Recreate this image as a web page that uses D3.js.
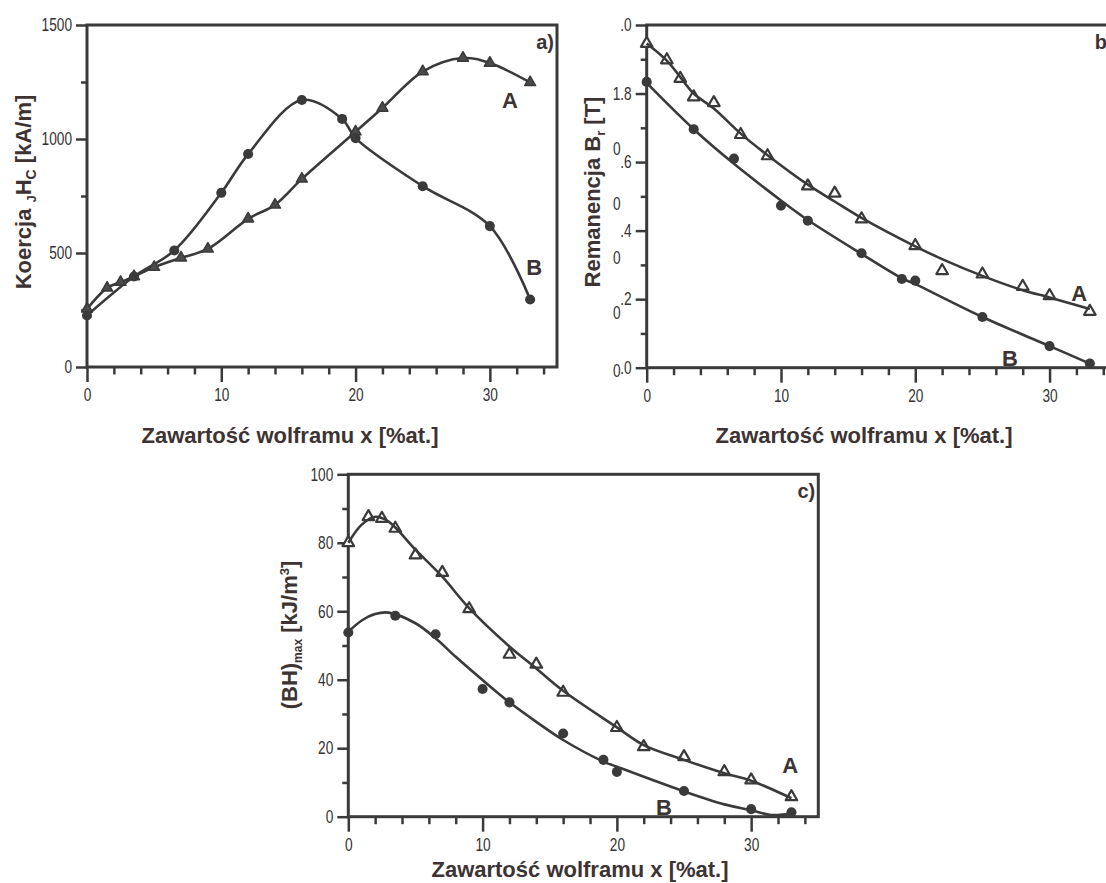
<!DOCTYPE html>
<html><head><meta charset="utf-8">
<script src="https://cdn.jsdelivr.net/npm/d3@7"></script>
<style>
body{margin:0;background:#fff}
svg{display:block;background:#fff}
.tick text{font-family:"Liberation Sans",Arial,sans-serif;font-size:18px;fill:#333}
.tick line{stroke:#3a3a3a;stroke-width:2.5}
.title{font-family:"Liberation Sans",Arial,Helvetica,sans-serif;font-weight:bold;font-size:22px;fill:#3d3333}
.lbl{font-family:"Liberation Sans",Arial,Helvetica,sans-serif;font-weight:bold;font-size:22px;fill:#3d3333}
.plbl{font-family:"Liberation Sans",Arial,Helvetica,sans-serif;font-weight:bold;font-size:20px;fill:#3d3333}
.stray{font-family:"Liberation Sans",Arial,sans-serif;font-size:18px;fill:#333}
</style></head><body>
<svg id="chart" width="1106" height="883"></svg>
<script>
// ---------- data ----------
const xTickValues = [0, 10, 20, 30];

// panel a) coercivity jHc [kA/m]
const aTriX = [0, 1.5, 2.5, 3.5, 5, 7, 9, 12, 14, 16, 20, 22, 25, 28, 30, 33];
const aTriY = [255, 347, 372, 397, 438, 479, 518, 650, 711, 825, 1032, 1136, 1296, 1355, 1333, 1248];
const aCirX = [0, 3.5, 6.5, 10, 12, 16, 19, 20, 25, 30, 33];
const aCirY = [226, 397, 511, 764, 934, 1171, 1088, 1004, 793, 618, 296];
const aYTicks = [0, 500, 1000, 1500];
const aYTickLabels = ["0", "500", "1000", "1500"];

// panel b) remanence Br [T]
const bTriX = [0, 1.5, 2.5, 3.5, 5, 7, 9, 12, 14, 16, 20, 22, 25, 28, 30, 33];
const bTriY = [0.946, 0.898, 0.844, 0.790, 0.773, 0.680, 0.618, 0.530, 0.509, 0.434, 0.356, 0.283, 0.273, 0.237, 0.210, 0.164];
const bFitAX = [0, 1.5, 2.5, 3.5, 5, 7, 9, 12, 14, 16, 20, 22, 25, 28, 30, 33];
const bFitAY = [0.946, 0.896, 0.848, 0.800, 0.756, 0.683, 0.620, 0.534, 0.485, 0.437, 0.354, 0.317, 0.268, 0.226, 0.205, 0.171];
const bCirX = [0, 3.5, 6.5, 10, 12, 16, 19, 20, 25, 30, 33];
const bCirY = [0.834, 0.696, 0.610, 0.473, 0.429, 0.334, 0.259, 0.254, 0.148, 0.063, 0.012];
const bFitBX = [0, 3.5, 6.5, 10, 12, 16, 19, 20, 25, 30, 33];
const bFitBY = [0.831, 0.696, 0.595, 0.488, 0.431, 0.332, 0.261, 0.244, 0.148, 0.063, 0.012];
const bYTicks = [0, 0.2, 0.4, 0.6, 0.8, 1.0];
const bYTickLabels = [".0", ".2", ".4", ".6", "1.8", ".0"];
const bStrayZeroY = [0.64, 0.48, 0.32, 0.16, -0.01];

// panel c) (BH)max [kJ/m3]
const cTriX = [0, 1.5, 2.5, 3.5, 5, 7, 9, 12, 14, 16, 20, 22, 25, 28, 30, 33];
const cTriY = [80, 87.6, 87.1, 84.2, 76.4, 71.3, 60.7, 47.4, 44.5, 36.3, 26.0, 20.4, 17.5, 13.1, 10.7, 5.8];
const cFitAX = [0, 1, 2, 3, 5, 7, 9, 12, 14, 16, 20, 22, 25, 28, 30, 33];
const cFitAY = [80, 85.3, 87.6, 86.2, 78.0, 70.1, 60.9, 49.7, 43.3, 36.8, 26.1, 20.9, 16.6, 12.7, 10.5, 5.4];
const cCirX = [0, 3.5, 6.5, 10, 12, 16, 19, 20, 25, 30, 33];
const cCirY = [53.8, 58.7, 53.3, 37.3, 33.4, 24.3, 16.6, 13.1, 7.5, 2.2, 1.3];
const cFitBX = [0, 1, 2, 3, 5, 6.5, 8, 10, 12, 14, 16, 19, 20, 25, 28, 30, 31.5, 33];
const cFitBY = [54, 57.3, 59.2, 59.6, 56.5, 52.1, 46.7, 39.9, 33.4, 27.7, 22.4, 16.1, 14.6, 7.4, 3.6, 1.9, 0.5, 0.9];
const cYTicks = [0, 20, 40, 60, 80, 100];
const cYTickLabels = ["0", "20", "40", "60", "80", "100"];

const xTitle = "Zawartość wolframu x [%at.]";

// ---------- drawing ----------
const svg = d3.select("#chart");
const ink = "#3a3a3a";
const narrow = 0.76;
const zip = (xs, ys) => xs.map((v, i) => [v, ys[i]]);

function panel(cfg) {
  const [l, t, r, b] = cfg.frame;
  const x = d3.scaleLinear().domain([0, 35]).range([l, r]);
  const y = d3.scaleLinear().domain(cfg.yDomain).range([b, t]);
  const g = svg.append("g");

  // minor ticks
  const xMinor = d3.range(0, 35, 2).filter(v => v % 10 !== 0);
  g.append("g").attr("transform", `translate(0,${b})`)
    .call(d3.axisBottom(x).tickValues(xMinor).tickSize(7.5).tickFormat(""))
    .call(s => s.select(".domain").remove());
  g.append("g").attr("transform", `translate(${l},0)`)
    .call(d3.axisLeft(y).tickValues(cfg.yMinor).tickSize(6).tickFormat(""))
    .call(s => s.select(".domain").remove());
  // major ticks
  g.append("g").attr("transform", `translate(0,${b})`)
    .call(d3.axisBottom(x).tickValues(xTickValues).tickSize(15).tickPadding(6.5).tickFormat(d3.format("d")))
    .call(s => s.select(".domain").remove())
    .call(s => s.selectAll(".tick text").attr("transform", `scale(${narrow},1)`));
  g.append("g").attr("transform", `translate(${l},0)`)
    .call(d3.axisLeft(y).tickValues(cfg.yTicks).tickSize(11).tickPadding(4)
      .tickFormat((d, i) => cfg.yLabels[i]))
    .call(s => s.select(".domain").remove())
    .call(s => s.selectAll(".tick text").attr("x", -15 / narrow).attr("transform", `scale(${narrow},1)`));
  g.selectAll(".tick text").attr("font-family", null).attr("font-size", null);

  if (cfg.stray) {
    g.selectAll(".stray").data(cfg.stray).join("text").attr("class", "stray")
      .attr("transform", d => `translate(${l - 26},${y(d)}) scale(${narrow},1)`)
      .attr("dy", "0.35em").attr("text-anchor", "end").text("0");
  }

  // frame
  g.append("rect").attr("x", l).attr("y", t).attr("width", r - l).attr("height", b - t)
    .attr("fill", "none").attr("stroke", ink).attr("stroke-width", 3);

  const line = d3.line().x(d => x(d[0])).y(d => y(d[1])).curve(d3.curveCatmullRom.alpha(0.5));
  const tri = d3.symbol(d3.symbolTriangle, cfg.filled ? 52 : 58);
  const cir = d3.symbol(d3.symbolCircle, 80);

  const drawMarkers = () => {
    g.append("g").selectAll("path").data(zip(cfg.triX, cfg.triY)).join("path")
      .attr("d", tri).attr("transform", d => `translate(${x(d[0])},${y(d[1])})`)
      .attr("fill", cfg.filled ? "#4a4a4a" : "#fff").attr("stroke", ink)
      .attr("stroke-width", cfg.filled ? 1.5 : 2.2).attr("stroke-linejoin", "round");
    g.append("g").selectAll("path").data(zip(cfg.cirX, cfg.cirY)).join("path")
      .attr("d", cir).attr("transform", d => `translate(${x(d[0])},${y(d[1])})`)
      .attr("fill", ink);
  };
  const drawLines = () => {
    [cfg.fitA, cfg.fitB].forEach(pts => {
      g.append("path").datum(pts).attr("d", line).attr("fill", "none")
        .attr("stroke", ink).attr("stroke-width", 2.6);
    });
  };
  if (cfg.filled) { drawLines(); drawMarkers(); } else { drawMarkers(); drawLines(); }

  // curve labels
  g.append("text").attr("class", "lbl").attr("x", x(cfg.labA[0])).attr("y", y(cfg.labA[1]))
    .attr("dy", "0.36em").attr("text-anchor", "middle").text("A");
  g.append("text").attr("class", "lbl").attr("x", x(cfg.labB[0])).attr("y", y(cfg.labB[1]))
    .attr("dy", "0.36em").attr("text-anchor", "middle").text("B");
  // panel letter
  g.append("text").attr("class", "plbl").attr("x", r - 3).attr("y", t + 24)
    .attr("text-anchor", "end").text(cfg.letter);

  // x title
  g.append("text").attr("class", "title").attr("x", cfg.xTitleX).attr("y", cfg.xTitleY)
    .attr("text-anchor", "middle").text(xTitle);
  // y title
  const yt = g.append("text").attr("class", "title")
    .attr("transform", `translate(${cfg.yTitlePos[0]},${cfg.yTitlePos[1]}) rotate(-90)`)
    .attr("text-anchor", "middle").attr("dy", "0.35em");
  cfg.yTitle.forEach(p => {
    const ts = yt.append("tspan").text(p.t);
    if (p.sub) ts.attr("font-size", p.fs || 13).attr("dy", p.sub);
  });
}

panel({
  frame: [87, 25, 557, 367], yDomain: [0, 1500],
  yTicks: aYTicks, yLabels: aYTickLabels, yMinor: [250, 750, 1250],
  triX: aTriX, triY: aTriY, cirX: aCirX, cirY: aCirY,
  fitA: zip(aTriX, aTriY), fitB: zip(aCirX, aCirY), filled: true,
  labA: [31.5, 1171], labB: [33.3, 439], letter: "a)",
  xTitleX: 290, xTitleY: 443, yTitlePos: [23, 192],
  yTitle: [{t: "Koercja "}, {t: "J", sub: 5, fs: 13}, {t: "H", sub: -5, fs: 22}, {t: "C", sub: 5, fs: 14}, {t: " [kA/m]", sub: -5, fs: 22}]
});

panel({
  frame: [646.7, 25, 1116.7, 367.7], yDomain: [0, 1],
  yTicks: bYTicks, yLabels: bYTickLabels, yMinor: [0.1, 0.3, 0.5, 0.7, 0.9],
  triX: bTriX, triY: bTriY, cirX: bCirX, cirY: bCirY,
  fitA: zip(bFitAX, bFitAY), fitB: zip(bFitBX, bFitBY), filled: false,
  labA: [32.2, 0.218], labB: [27.05, 0.028], letter: "b)", stray: bStrayZeroY,
  xTitleX: 864, xTitleY: 443, yTitlePos: [592, 192],
  yTitle: [{t: "Remanencja B"}, {t: "r", sub: 5, fs: 13}, {t: " [T]", sub: -5, fs: 22}]
});

panel({
  frame: [348.3, 474.3, 818.3, 816.7], yDomain: [0, 100],
  yTicks: cYTicks, yLabels: cYTickLabels, yMinor: [10, 30, 50, 70, 90],
  triX: cTriX, triY: cTriY, cirX: cCirX, cirY: cCirY,
  fitA: zip(cFitAX, cFitAY), fitB: zip(cFitBX, cFitBY), filled: false,
  labA: [32.9, 15.1], labB: [23.5, 2.9], letter: "c)",
  xTitleX: 580, xTitleY: 877, yTitlePos: [289, 635],
  yTitle: [{t: "(BH)"}, {t: "max", sub: 5, fs: 12}, {t: " [kJ/m", sub: -5, fs: 22}, {t: "3", sub: -8, fs: 13}, {t: "]", sub: 8, fs: 22}]
});
</script>
</body></html>
